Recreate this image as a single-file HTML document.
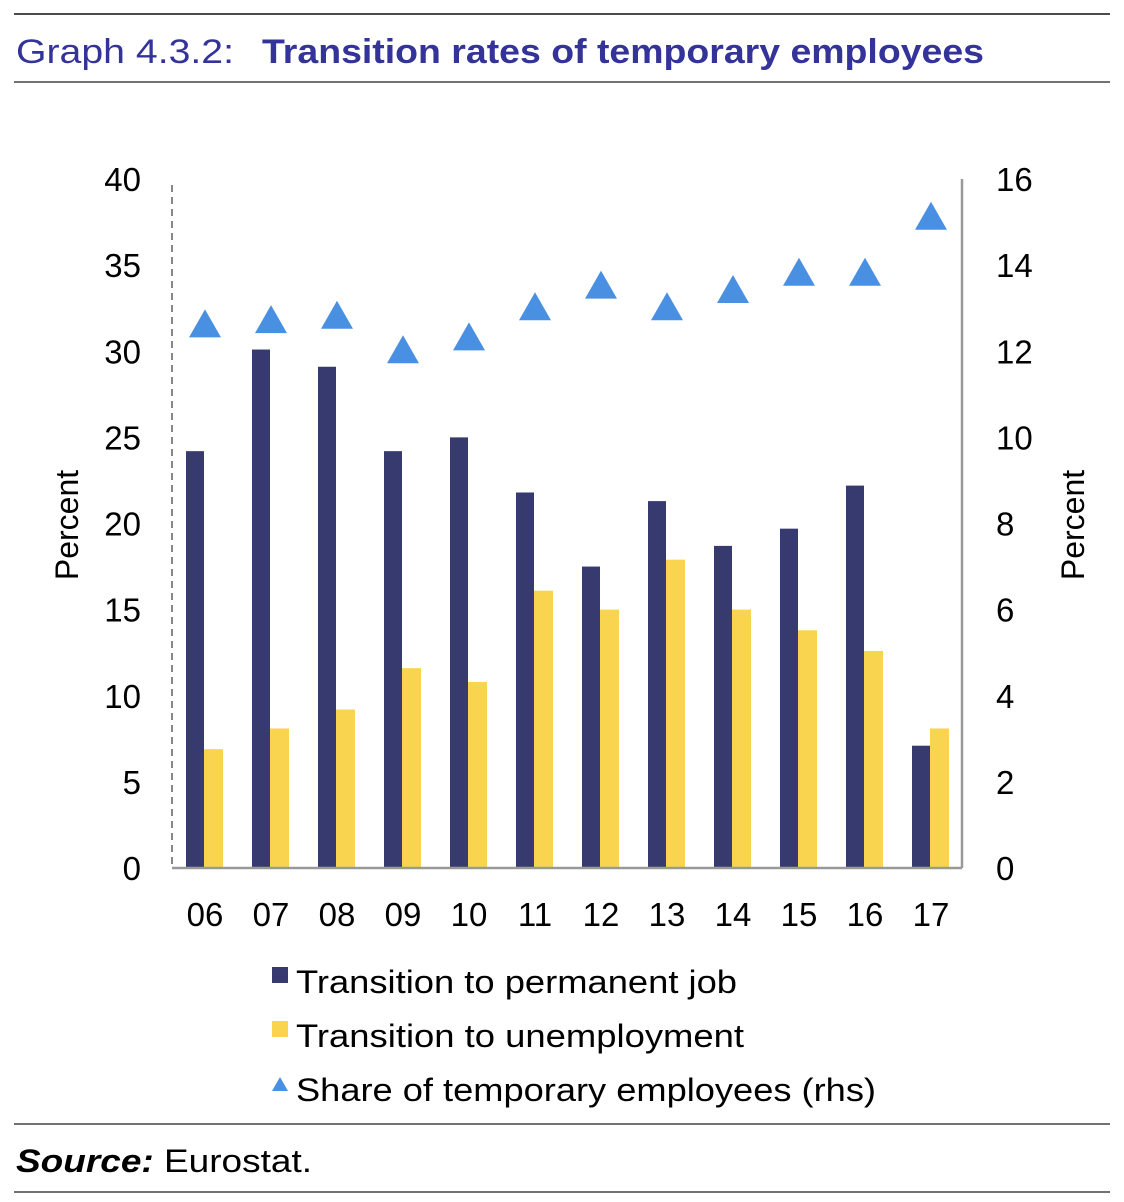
<!DOCTYPE html>
<html><head><meta charset="utf-8"><style>
body{margin:0;background:#fff;width:1124px;height:1202px;overflow:hidden;font-family:"Liberation Sans",sans-serif}
svg{position:absolute;left:0;top:0}
</style></head><body>
<svg width="1124" height="1202">
<line x1="14" y1="14" x2="1110" y2="14" stroke="#111" stroke-width="1.5"/>
<line x1="14" y1="82" x2="1110" y2="82" stroke="#444" stroke-width="1.5"/>
<text x="16" y="63" font-size="34" fill="#333399" textLength="218" lengthAdjust="spacingAndGlyphs">Graph 4.3.2:</text>
<text x="262" y="63" font-size="34" fill="#333399" font-weight="bold" textLength="722" lengthAdjust="spacingAndGlyphs">Transition rates of temporary employees</text>
<g id="plot"></g>
<text transform="translate(78,525) rotate(-90)" text-anchor="middle" font-size="32">Percent</text>
<text transform="translate(1084,525) rotate(-90)" text-anchor="middle" font-size="32">Percent</text>
<g>
<rect x="272" y="967" width="16" height="16" fill="#363a6e"/>
<text x="296" y="993" font-size="32" textLength="441" lengthAdjust="spacingAndGlyphs">Transition to permanent job</text>
<rect x="272" y="1021" width="16" height="16" fill="#f9d44f"/>
<text x="296" y="1047" font-size="32" textLength="448" lengthAdjust="spacingAndGlyphs">Transition to unemployment</text>
<polygon points="280,1077 288,1091 272,1091" fill="#4a90e2"/>
<text x="296" y="1101" font-size="32" textLength="580" lengthAdjust="spacingAndGlyphs">Share of temporary employees (rhs)</text>
</g>
<line x1="14" y1="1124" x2="1110" y2="1124" stroke="#444" stroke-width="1.5"/>
<text x="16" y="1172" font-size="32" textLength="296" lengthAdjust="spacingAndGlyphs"><tspan font-weight="bold" font-style="italic">Source:</tspan> Eurostat.</text>
<line x1="14" y1="1192" x2="1110" y2="1192" stroke="#444" stroke-width="1.5"/>
</svg>
<script>
const categories=["06","07","08","09","10","11","12","13","14","15","16","17"];
const permanent=[24.2,30.1,29.1,24.2,25.0,21.8,17.5,21.3,18.7,19.7,22.2,7.1];
const unemployment=[6.9,8.1,9.2,11.6,10.8,16.1,15.0,17.9,15.0,13.8,12.6,8.1];
const share=[12.6,12.7,12.8,12.0,12.3,13.0,13.5,13.0,13.4,13.8,13.8,15.1];
const leftTicks=[0,5,10,15,20,25,30,35,40];
const rightTicks=[0,2,4,6,8,10,12,14,16];
const NS="http://www.w3.org/2000/svg";
const g=document.getElementById('plot');
const y0=868,yTop=179,xL=172,xR=962;
const yL=v=>y0-(v/40)*(y0-yTop);
const yR=v=>y0-(v/16)*(y0-yTop);
const xC=i=>205+i*66;
function mk(t,a){const e=document.createElementNS(NS,t);for(const k in a)e.setAttribute(k,a[k]);g.appendChild(e);return e;}
let e;
e=mk('line',{x1:xL,y1:185,x2:xL,y2:y0,stroke:'#888','stroke-width':2,'stroke-dasharray':'7,5'});


e=mk('line',{x1:xR,y1:179,x2:xR,y2:y0,stroke:'#999','stroke-width':2.5});


leftTicks.forEach(v=>{e=mk('text',{x:141,y:yL(v)+12,'text-anchor':'end','font-size':33});e.textContent=v;

});
rightTicks.forEach(v=>{e=mk('text',{x:996,y:yR(v)+12,'font-size':33});e.textContent=v;

});
categories.forEach((c,i)=>{
const x=xC(i);
e=mk('rect',{x:x-19,y:yL(permanent[i]),width:18,height:y0-yL(permanent[i]),fill:'#363a6e'});


e=mk('rect',{x:x-1,y:yL(unemployment[i]),width:19,height:y0-yL(unemployment[i]),fill:'#f9d44f'});


const ty=yR(share[i]);
e=mk('polygon',{points:`${x},${ty-16} ${x+16},${ty+12} ${x-16},${ty+12}`,fill:'#4a90e2'});


e=mk('text',{x:x,y:926,'text-anchor':'middle','font-size':33});e.textContent=c;


});
e=mk('line',{x1:xL,y1:y0,x2:xR,y2:y0,stroke:'#999','stroke-width':2.5});


</script>
</body></html>
